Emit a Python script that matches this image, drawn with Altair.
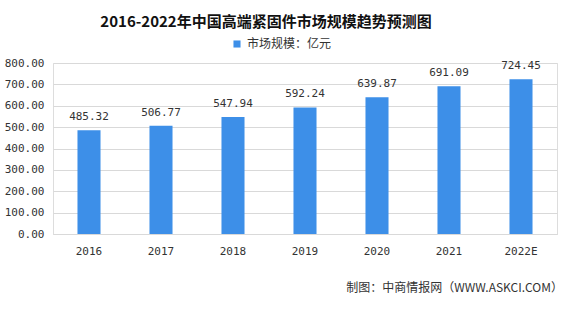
import altair as alt
import pandas as pd

years = ["2016", "2017", "2018", "2019", "2020", "2021", "2022E"]
values = [485.32, 506.77, 547.94, 592.24, 639.87, 691.09, 724.45]
y_ticks = [0, 100, 200, 300, 400, 500, 600, 700, 800]
series_name = "市场规模：亿元"
title_text = "2016-2022年中国高端紧固件市场规模趋势预测图"
source_text = "制图：中商情报网（WWW.ASKCI.COM）"

df = pd.DataFrame({"year": years, "value": values, "series": [series_name] * len(years)})

mono = "DejaVu Sans Mono"
cjk = "Noto Sans CJK SC"
bar_color = "#3d8fe8"

x_axis = alt.Axis(labelAngle=0, ticks=False, domainColor="#d9d9d9",
                  labelFont=mono, labelFontSize=11, labelColor="#333333",
                  labelPadding=11)
y_axis = alt.Axis(values=y_ticks, tickCount=9,
                  format=".2f", domain=False, ticks=False, labelOverlap=False,
                  gridColor="#d9d9d9", labelFont=mono, labelFontSize=11,
                  labelColor="#333333", labelPadding=9)
x_enc = alt.X("year:N", sort=years, title=None,
              scale=alt.Scale(paddingInner=0.68, paddingOuter=0.34), axis=x_axis)
y_enc = alt.Y("value:Q", title=None, scale=alt.Scale(domain=[0, 800], nice=False), axis=y_axis)

base = alt.Chart(df)

bars = base.mark_bar(color=bar_color).encode(
    x=x_enc,
    y=y_enc,
    color=alt.Color("series:N", scale=alt.Scale(range=[bar_color]),
                    legend=alt.Legend(title=None, orient="none", legendX=178, legendY=-25,
                                      symbolType="square", symbolSize=50,
                                      labelFont=cjk, labelFontSize=12, labelColor="#333333")),
)

labels = base.mark_text(baseline="bottom", dy=-8, font=mono, fontSize=11, color="#333333").encode(
    x=x_enc,
    y=y_enc,
    text=alt.Text("value:Q", format=".2f"),
)

source = alt.Chart(pd.DataFrame({"t": [source_text]})).mark_text(
    align="right", baseline="middle", font=cjk, fontSize=12, color="#333333"
).encode(x=alt.value(510), y=alt.value(225), text="t:N")

chart = alt.layer(bars, labels, source).properties(
    width=504, height=171,
    title=alt.TitleParams(title_text, font=cjk, fontSize=15, fontWeight="bold",
                          color="#111111", anchor="middle", dx=-39, offset=8),
    autosize=alt.AutoSizeParams(type="none"),
    padding={"left": 53, "top": 63, "right": 5, "bottom": 77},
).configure_view(stroke=None).configure(background="white")

chart.save("out.html", embed_options={"renderer": "svg", "actions": False})
